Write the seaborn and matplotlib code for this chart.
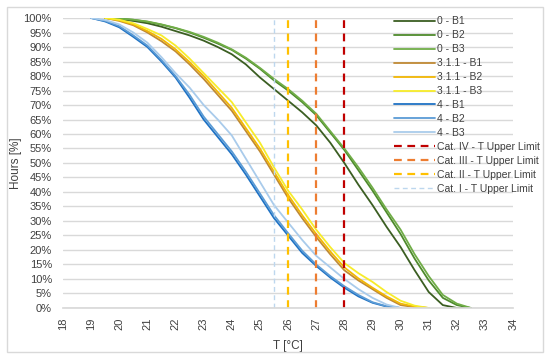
import numpy as np
import pandas as pd
import seaborn as sns
from matplotlib import pyplot as plt
from matplotlib.patches import Rectangle
from matplotlib.ticker import PercentFormatter

# Temperature steps [°C] for each scenario group
t_0 = [19.5, 20, 20.5, 21, 21.5, 22, 22.5, 23, 23.5, 24, 24.5, 25, 25.5, 26,
       26.5, 27, 27.5, 28, 28.5, 29, 29.5, 30, 30.5, 31, 31.5, 32, 32.5]
t_311 = [19.5, 20, 20.5, 21, 21.5, 22, 22.5, 23, 23.5, 24, 24.5, 25, 25.5,
         26, 26.5, 27, 27.5, 28, 28.5, 29, 29.5, 30, 30.5, 31]
t_4 = [19, 19.5, 20, 20.5, 21, 21.5, 22, 22.5, 23, 23.5, 24, 24.5, 25, 25.5,
       26, 26.5, 27, 27.5, 28, 28.5, 29, 29.5, 30]

# Hours above temperature [%]
h_0_b1 = [100, 99.6, 99, 98.2, 97, 95.5, 94, 92.2, 90, 87.5, 84, 79.5, 75.5, 71.5,
          67.5, 63, 57, 50, 42.5, 35.5, 28, 21, 13, 5.5, 1, 0, 0]
h_0_b2 = [100, 99.8, 99.4, 98.7, 97.7, 96.5, 95, 93.2, 91.2, 89, 86, 82.5, 78.5,
          75, 71, 66.5, 60.5, 54.5, 47.5, 40.5, 33, 25.5, 17, 9.5, 3.5, 1, 0]
h_0_b3 = [100, 99.8, 99.4, 98.8, 97.8, 96.6, 95.2, 93.5, 91.5, 89.2, 86.3, 82.8,
          79, 75.5, 71.5, 67, 61, 55, 48.5, 41.5, 34, 27, 18.5, 11, 4.5, 1.5, 0]
h_311_b1 = [100, 99, 97.5, 95, 92, 88.5, 84, 79, 73.5, 68, 61, 54, 46, 38,
            31, 24.5, 18.5, 13, 9.5, 6.5, 3.5, 1, 0.3, 0]
h_311_b2 = [100, 99.2, 97.8, 95.5, 92.8, 89.2, 84.8, 80, 74.5, 69, 62, 55, 47, 39,
            32, 25.5, 19.5, 14, 10.2, 7, 4, 1.5, 0.5, 0]
h_311_b3 = [100, 99.4, 98.2, 96.2, 94, 90.5, 86, 81, 76, 71, 64, 57, 48.5, 40.5,
            34, 27, 21, 15.5, 12, 9, 5.5, 2.5, 0.8, 0]
h_4_b1 = [100, 98.8, 96.8, 93.5, 90, 85, 79.5, 72.5, 65, 59, 53, 46, 38.5, 31, 25,
          19, 14.5, 10.5, 7, 4, 1.8, 0.5, 0]
h_4_b2 = [100, 99, 97.2, 94, 90.5, 85.5, 80, 73.5, 66, 60, 54, 47, 39.5, 32, 25.8,
          19.8, 15, 11, 7.5, 4.5, 2, 0.6, 0]
h_4_b3 = [100, 99.3, 97.8, 95, 91.5, 86.5, 81, 76, 70, 65, 59.5, 51.5, 43.5, 35.5,
          29.5, 23.5, 18, 14, 10, 6.5, 3.5, 1.2, 0]

series_names = ["0 - B1", "0 - B2", "0 - B3",
                "3.1.1 - B1", "3.1.1 - B2", "3.1.1 - B3",
                "4 - B1", "4 - B2", "4 - B3"]
series_colors = ["#3B5E22", "#4E8A2C", "#70AD47",
                 "#C08A35", "#F2B705", "#F7EC2A",
                 "#1F72C4", "#5B9BD5", "#A9CBEB"]

limit_names = ["Cat. IV - T Upper Limit", "Cat. III - T Upper Limit",
               "Cat. II - T Upper Limit", "Cat. I - T Upper Limit"]
limit_temps = [28, 27, 26, 25.5]
limit_colors = ["#C00000", "#ED7D31", "#FFC000", "#BDD7EE"]


def build_frame() -> pd.DataFrame:
    """
    Builds a long table with one row per (series, temperature) point.
    """
    temps = [t_0, t_0, t_0, t_311, t_311, t_311, t_4, t_4, t_4]
    hours = [h_0_b1, h_0_b2, h_0_b3, h_311_b1, h_311_b2, h_311_b3,
             h_4_b1, h_4_b2, h_4_b3]
    parts = []
    for name, t, h in zip(series_names, temps, hours):
        parts.append(pd.DataFrame({"T": t, "Hours": h, "Series": name}))
    return pd.concat(parts, ignore_index=True)


def main() -> None:
    sns.set_theme(style="white")
    plt.rcParams["font.family"] = ["Liberation Sans Narrow", "Liberation Sans", "DejaVu Sans"]

    df = build_frame()

    fig = plt.figure(figsize=(5.5, 3.58), dpi=100)
    ax = fig.add_axes([0.1145, 0.1397, 0.8185, 0.81])

    sns.lineplot(data=df, x="T", y="Hours", hue="Series", hue_order=series_names,
                 palette=series_colors, estimator=None, sort=False,
                 linewidth=1.3, ax=ax)

    for name, temp, color in zip(limit_names, limit_temps, limit_colors):
        lw = 1.0 if name.startswith("Cat. I ") else 1.6
        ax.axvline(temp, color=color, linestyle=(0, (3.5, 2.5)), linewidth=lw, label=name)

    ax.set_xlim(18, 34)
    ax.set_ylim(0, 100)
    ax.set_xticks(np.arange(18, 35, 1))
    ax.set_yticks(np.arange(0, 101, 5))
    ax.yaxis.set_major_formatter(PercentFormatter(xmax=100, decimals=0))
    ax.grid(axis="y", color="#D9D9D9", linewidth=1.0)
    ax.set_axisbelow(True)
    for side in ["left", "right", "top"]:
        ax.spines[side].set_visible(False)
    ax.spines["bottom"].set_color("#D9D9D9")
    ax.tick_params(axis="x", labelrotation=90, labelsize=8, colors="#404040", pad=7, length=0)
    ax.tick_params(axis="y", labelsize=8, colors="#404040", pad=8, length=0)
    ax.set_xlabel("T [°C]", fontsize=8.5, color="#404040", labelpad=7)
    ax.set_ylabel("Hours [%]", fontsize=8.5, color="#404040", labelpad=1)

    handles, labels = ax.get_legend_handles_labels()
    leg = ax.legend(handles, labels, loc="upper left", bbox_to_anchor=(0.725, 1.02),
                    frameon=False, fontsize=7.5, labelspacing=0.38,
                    handlelength=4.0, handletextpad=0.15, borderaxespad=0)
    for text in leg.get_texts():
        text.set_color("#404040")

    fig.patches.append(Rectangle((7 / 550, 6 / 358), 536 / 550, 345 / 358,
                                 transform=fig.transFigure, fill=False,
                                 edgecolor="#D9D9D9", linewidth=1.0))

    fig.savefig("out.png", dpi=100)


if __name__ == "__main__":
    main()
